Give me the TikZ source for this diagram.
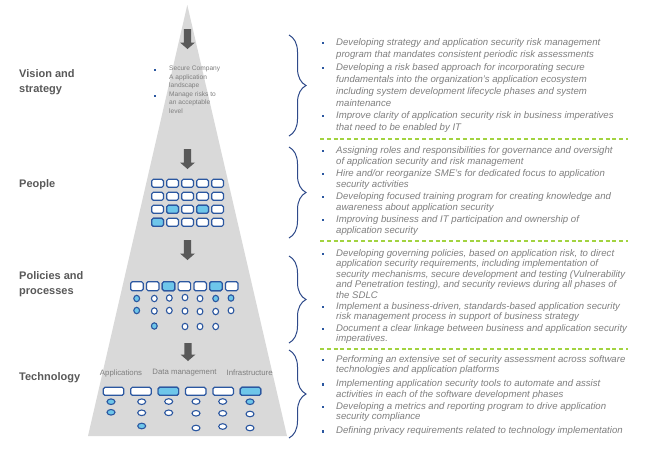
\documentclass[tikz,border=0pt]{standalone}
\usepackage{fontspec}
\setmainfont{Liberation Sans}
\usetikzlibrary{decorations.pathreplacing}
\definecolor{tri}{HTML}{D9D9D9}
\definecolor{arr}{HTML}{595959}
\definecolor{lab}{HTML}{595959}
\definecolor{txt}{HTML}{7F7F7F}
\definecolor{bord}{HTML}{2B57A0}
\definecolor{fillb}{HTML}{6EC6EA}
\definecolor{dgreen}{HTML}{A2D340}
\definecolor{bracec}{HTML}{2F4A8A}
\begin{document}
\begin{tikzpicture}[x=1pt,y=-1pt,
  cell/.style={draw=bord, line width=1.2pt, rounded corners=1.6pt, fill=white},
  cellon/.style={cell, fill=fillb},
  dot/.style={draw=bord, line width=1.1pt, fill=white},
  doton/.style={dot, fill=fillb},
  item/.style={anchor=north west, inner sep=0pt, align=left, text=txt},
  fa/.style={font=\fontsize{9.6}{12}\selectfont\itshape},
  fb/.style={font=\fontsize{9.6}{11}\selectfont\itshape},
  fc/.style={font=\fontsize{9.6}{10.5}\selectfont\itshape},
  lbl/.style={anchor=north west, inner sep=0pt, align=left, text=lab, font=\fontsize{11}{14.5}\selectfont\bfseries},
  tlab/.style={inner sep=0pt, text=txt, font=\fontsize{7.8}{9}\selectfont},
  sep/.style={dgreen, line width=1.3pt, dash pattern=on 4pt off 2.8pt},
  br/.style={bracec, line width=1pt, decorate, decoration={brace, amplitude=17pt}}]
\useasboundingbox (0,0) rectangle (651,451);
\fill[white] (0,0) rectangle (651,451);
% pyramid
\fill[tri] (187.3,5) -- (287,436) -- (88,436) -- cycle;
% arrows
\foreach \c/\t/\b in {187.5/29/49, 187.5/149/169, 187.5/240/260, 188/343/361}{
  \fill[arr] (\c-3.7,\t) -- (\c+3.7,\t) -- (\c+3.7,\b-6.5) -- (\c+7.5,\b-6.5) -- (\c,\b) -- (\c-7.5,\b-6.5) -- (\c-3.7,\b-6.5) -- cycle;
}
% vision text inside pyramid
\fill[bord] (154.2,69.2) rectangle ++(1.6,1.6);
\fill[bord] (154.2,95.2) rectangle ++(1.6,1.6);
\node[item, font=\fontsize{6.6}{8.3}\selectfont] (v1) at (169,66) {Secure Company\\A application\\landscape};
\node[item, font=\fontsize{6.6}{8.3}\selectfont] (v2) at (169,91.5) {Manage risks to\\an acceptable\\level};
% people grid
\foreach \i in {0,...,4}{\foreach \j in {0,...,3}{
  \draw[cell] (151.7+15*\i,179.3+13*\j) rectangle ++(11.7,8);
}}
\draw[cellon] (151.7+15,179.3+26) rectangle ++(11.7,8);
\draw[cellon] (151.7+45,179.3+26) rectangle ++(11.7,8);
\draw[cellon] (151.7,179.3+39) rectangle ++(11.7,8);
% policies grid
\foreach \i in {0,...,6}{
  \draw[cell] (130.7+15.8*\i,281.7) rectangle ++(12.5,9);
}
\draw[cellon] (130.7+15.8*2,281.7) rectangle ++(12.5,9);
\draw[cellon] (130.7+15.8*5,281.7) rectangle ++(12.5,9);
\foreach \x/\y/\s in {136.7/298.5/doton, 136.7/310.5/doton,
  154.3/298.5/dot, 154.3/311/dot, 154.3/326/doton,
  169.3/298/dot, 169.3/310.5/dot,
  185/297.5/dot, 185/311/dot, 185/326.5/dot,
  200/298.5/dot, 200/311.5/dot, 200/326.5/dot,
  215.7/298.5/doton, 215.7/311.5/dot, 215.7/326.5/dot,
  231/298/doton, 231/310.5/dot}{
  \draw[\s] (\x,\y) ellipse [x radius=2.9pt, y radius=3.2pt];
}
% technology
\node[tlab] (tapp) at (121,373) {Applications};
\node[tlab] (tdata) at (184.5,373) {Data management};
\node[tlab] (tinf) at (249.7,373) {Infrastructure};
\foreach \i in {0,...,5}{
  \draw[cell] (103.3+27.4*\i,387.3) rectangle ++(20.5,8);
}
\draw[cellon] (103.3+27.4*2,387.3) rectangle ++(20.5,8);
\draw[cellon] (103.3+27.4*5,387.3) rectangle ++(20.5,8);
\foreach \x/\y/\s in {111/401.7/doton, 111/412.3/doton,
  141.7/401.7/dot, 141.7/412.8/dot, 141.7/426/doton,
  168.7/401.5/dot, 168.7/412.8/dot,
  196/401.5/dot, 196/413.3/dot, 196/428/dot,
  222.7/401.5/dot, 222.7/413.3/dot, 222.7/426.5/dot,
  250/401.7/doton, 250/414/dot, 250/428/dot}{
  \draw[\s] (\x,\y) ellipse [x radius=4pt, y radius=2.8pt];
}
% left labels
\node[lbl] (lv) at (19,69.5) {Vision and\\strategy};
\node[lbl] (lp) at (19,179.5) {People};
\node[lbl] (lpp) at (19,271.5) {Policies and\\processes};
\node[lbl] (lt) at (19,372.5) {Technology};
% braces
\draw[br] (289,35) -- (289,136);
\draw[br] (289,147) -- (289,238);
\draw[br] (289,256) -- (289,343);
\draw[br] (289,350) -- (289,438);
% separators
\coordinate (s1a) at (320,139); \coordinate (s1b) at (628,139);
\coordinate (s2a) at (320,241); \coordinate (s2b) at (628,241);
\coordinate (s3a) at (320,349); \coordinate (s3b) at (628,349);
\draw[sep] (s1a) -- (s1b);
\draw[sep] (s2a) -- (s2b);
\draw[sep] (s3a) -- (s3b);
% bullets
\foreach \y in {43,68,116,151,174,197,220,254,307,329,360,384.5,407,431.5}{
  \fill[bord] (321.6,\y-1.1) rectangle ++(2.2,2.2);
}
% block 1
\node[item, fa] (a1) at (336,38.5) {Developing strategy and application security risk management\\program that mandates consistent periodic risk assessments};
\node[item, fa] (a2) at (336,63.5) {Developing a risk based approach for incorporating secure\\fundamentals into the organization’s application ecosystem\\including system development lifecycle phases and system\\maintenance};
\node[item, fa] (a3) at (336,111.5) {Improve clarity of application security risk in business imperatives\\that need to be enabled by IT};
% block 2
\node[item, fb] (b1) at (336,146) {Assigning roles and responsibilities for governance and oversight\\of application security and risk management};
\node[item, fb] (b2) at (336,169) {Hire and/or reorganize SME’s for dedicated focus to application\\security activities};
\node[item, fb] (b3) at (336,192) {Developing focused training program for creating knowledge and\\awareness about application security};
\node[item, fb] (b4) at (336,215) {Improving business and IT participation and ownership of\\application security};
% block 3
\node[item, fc] (c1) at (336,249) {Developing governing policies, based on application risk, to direct\\application security requirements, including implementation of\\security mechanisms, secure development and testing (Vulnerability\\and Penetration testing), and security reviews during all phases of\\the SDLC};
\node[item, fc] (c2) at (336,302) {Implement a business-driven, standards-based application security\\risk management process in support of business strategy};
\node[item, fc] (c3) at (336,324) {Document a clear linkage between business and application security\\imperatives.};
% block 4
\node[item, fc] (d1) at (336,355) {Performing an extensive set of security assessment across software\\technologies and application platforms};
\node[item, fc] (d2) at (336,379.5) {Implementing application security tools to automate and assist\\activities in each of the software development phases};
\node[item, fc] (d3) at (336,402) {Developing a metrics and reporting program to drive application\\security compliance};
\node[item, fc] (d4) at (336,426.5) {Defining privacy requirements related to technology implementation};
\end{tikzpicture}
\end{document}
